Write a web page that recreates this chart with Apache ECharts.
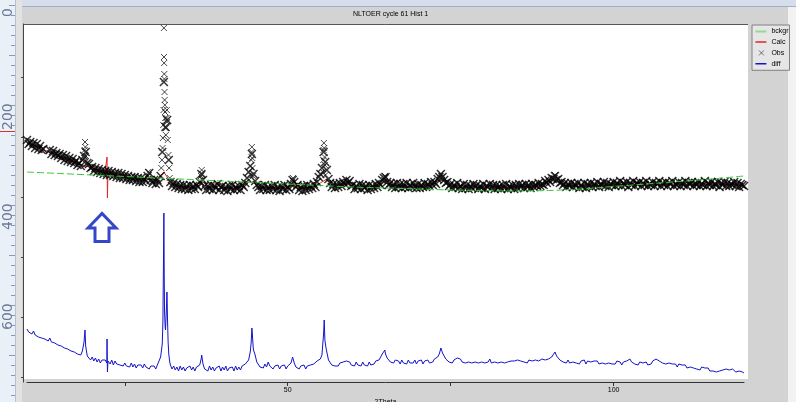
<!DOCTYPE html>
<html lang="en">
<head>
<meta charset="UTF-8">
<title>NLTOER cycle 61 Hist 1</title>
<script src="https://cdn.jsdelivr.net/npm/echarts@6/dist/echarts.min.js"></script>
<style>
  html, body { margin: 0; padding: 0; background: #d3d3d3; }
  #main { width: 796px; height: 402px; }
</style>
</head>
<body>
<div id="main"></div>
<script type="text/javascript">
// scan: 2theta from 10 to 120, step 0.25 (obs + diff), calc every 1 deg
const scanStart = 10;
const scanStep = 0.25;

const obsCounts = [
  242, 238, 240, 236, 239, 234, 238, 233, 236, 232,   // 10.0
  233, null, null, null, 232, 228, 231, 227, 229, 226,
  228, 224, 227, 222, 226, 221, 224, 220, 223, 219,   // 15.0
  221, 217, 219, 216, 222, 226, 230, 219, 218, 214,
  215, 211, 214, 210, 213, 209, 212, 208, 211, 207,   // 20.0
  211, 207, 210, 206, 209, 205, 209, 204, 208, 204,
  207, 203, 206, 202, 205, 202, 205, 201, 204, 200,   // 25.0
  204, 200, 203, 201, 206, 209, 202, 199, 202, 198,
  202, 199, 206, 230, 300, 255, 262, 222, 200, 196,   // 30.0
  199, 195, 198, 194, 197, 193, 197, 193, 196, 192,
  197, 193, 196, 193, 197, 195, 200, 208, 202, 196,   // 35.0
  192, 196, 193, 197, 192, 196, 194, 198, 192, 195,
  196, 192, 195, 191, 196, 193, 197, 192, 195, 193,   // 40.0
  196, 192, 197, 195, 199, 204, 210, 216, 228, 208,
  201, 197, 195, 192, 196, 193, 197, 192, 195, 192,   // 45.0
  196, 193, 197, 192, 195, 191, 196, 193, 197, 192,
  195, 193, 198, 202, 200, 195, 197, 192, 195, 191,   // 50.0
  196, 192, 197, 193, 196, 194, 198, 195, 200, 205,
  208, 214, 230, 220, 212, 203, 199, 195, 198, 194,   // 55.0
  198, 195, 199, 196, 200, 198, 202, 199, 201, 196,
  197, 193, 196, 194, 198, 193, 197, 194, 196, 192,   // 60.0
  197, 193, 196, 194, 198, 195, 199, 197, 202, 204,
  205, 200, 197, 199, 195, 198, 194, 199, 195, 198,   // 65.0
  194, 198, 195, 199, 194, 197, 195, 199, 196, 194,
  198, 194, 197, 195, 199, 195, 198, 196, 200, 197,   // 70.0
  200, 198, 203, 205, 208, 205, 202, 199, 200, 196,
  198, 194, 197, 195, 199, 194, 196, 193, 198, 194,   // 75.0
  197, 193, 196, 194, 198, 195, 197, 193, 196, 194,
  198, 193, 196, 195, 198, 194, 197, 193, 197, 194,   // 80.0
  196, 193, 197, 194, 198, 193, 196, 194, 197, 193,
  197, 194, 198, 195, 197, 194, 198, 195, 197, 194,   // 85.0
  198, 195, 197, 196, 199, 196, 198, 197, 201, 199,
  202, 200, 204, 203, 206, 202, 203, 199, 200, 197,   // 90.0
  199, 195, 198, 196, 199, 195, 198, 196, 199, 194,
  197, 195, 199, 194, 198, 196, 199, 195, 198, 196,   // 95.0
  200, 195, 198, 197, 200, 196, 199, 195, 198, 197,
  200, 196, 199, 197, 201, 196, 199, 197, 200, 195,   // 100.0
  199, 197, 201, 196, 199, 198, 200, 196, 199, 197,
  201, 196, 198, 197, 200, 196, 199, 198, 201, 196,   // 105.0
  199, 197, 200, 196, 199, 198, 201, 196, 198, 197,
  200, 196, 199, 197, 201, 196, 199, 198, 200, 196,   // 110.0
  199, 197, 200, 196, 198, 197, 201, 196, 199, 197,
  200, 196, 198, 197, 200, 195, 199, 197, 200, 196,   // 115.0
  199, 196, 198, 197, 200, 196, 199, 195, 198, 197,
  196                                                 // 120.0
];

// extra obs points on the peaks
const obsPeakTheta = [
  18.8, 18.85, 18.9, 18.95, 19.05, 28.6,
  30.6, 30.7, 30.8, 30.85, 30.9, 30.95, 31.0, 31.02, 31.04, 31.06, 31.08, 31.1, 31.12,
  31.15, 31.18, 31.2, 31.25, 31.3, 31.35, 31.4, 31.45, 31.5, 31.6, 31.7, 31.8, 31.9,
  36.7, 36.8, 36.9, 44.3, 44.4, 44.45, 44.5, 44.55, 44.6, 44.7, 50.8,
  55.4, 55.45, 55.5, 55.55, 55.6, 55.65, 55.7, 55.8,
  64.8, 64.9, 65.0, 73.4, 73.5, 73.6, 90.9, 91.0, 91.1
];
const obsPeakCounts = [
  224, 232, 240, 235, 226, 210,
  214, 222, 234, 244, 257, 272, 354, 325, 319, 308, 303, 290, 282,
  277, 270, 264, 254, 247, 254, 264, 272, 260, 242, 227, 214, 204,
  206, 212, 208, 207, 222, 230, 235, 224, 214, 206, 204,
  210, 222, 232, 239, 234, 225, 217, 207,
  202, 206, 204, 204, 208, 205, 204, 207, 203
];

const calcStep = 1;
const calcCounts = [
  239, 237, 233, 231, 228, 225, 222, 220, 218, 216,
  214, 212, 211, 210, 208, 207, 205, 204, 204, 202,
  203, 210, 200, 197, 195, 195, 195, 200, 195, 199,
  194, 194, 194, 196, 200, 199, 195, 194, 194, 194,
  194, 198, 194, 194, 195, 199, 203, 196, 196, 198,
  196, 195, 195, 195, 197, 202, 197, 196, 195, 196,
  196, 196, 197, 201, 202, 196, 195, 195, 196, 195,
  195, 196, 195, 195, 195, 195, 196, 195, 196, 197,
  200, 203, 198, 196, 196, 196, 196, 197, 196, 197,
  198, 197, 198, 197, 198, 197, 198, 198, 197, 198,
  198, 197, 198, 197, 198, 197, 198, 197, 198, 197,
  197
];
const calcPeakTheta = [22.2, 22.28, 22.34, 22.42];
const calcPeakCounts = [211, 225, 184, 211];

const bckgrTheta = [10, 15, 20, 25, 30, 35, 40, 45, 50, 55, 60, 65, 70, 75, 80, 85, 90, 95, 100, 105, 110, 115, 120];
const bckgrCounts = [210, 208.5, 207, 205.5, 204, 202.5, 201, 199.5, 198, 196.5, 195, 194, 193, 192, 191.5, 191, 191.5, 193, 195.5, 198, 200.5, 203, 206];

// difference curve (already offset, as plotted)
const diffCounts = [
  53, 50, 52, 48, 51, 47, 49, 45, 47, 44,   // 10.0
  46, 43, 45, 41, 44, 40, 42, 39, 41, 37,
  39, 36, 38, 34, 36, 33, 35, 31, 33, 30,   // 15.0
  32, 28, 30, 27, 31, 40, 36, 26, 26, 22,
  25, 21, 24, 20, 23, 19, 22, 20, 22, 19,   // 20.0
  21, 18, 22, 17, 21, 18, 20, 17, 19, 16,
  19, 16, 18, 15, 19, 15, 18, 14, 17, 15,   // 25.0
  17, 14, 18, 15, 17, 13, 16, 14, 16, 13,
  17, 19, 25, 38, 169, 52, 90, 28, 17, 13,  // 30.0
  16, 12, 15, 11, 16, 12, 15, 11, 14, 12,
  16, 12, 15, 11, 15, 13, 17, 24, 18, 13,   // 35.0
  15, 11, 16, 12, 15, 11, 14, 12, 16, 11,
  15, 12, 16, 11, 14, 12, 15, 11, 16, 12,   // 40.0
  15, 12, 16, 14, 18, 16, 22, 30, 54, 32,
  27, 20, 18, 15, 17, 14, 18, 15, 20, 16,   // 45.0
  17, 13, 16, 14, 17, 13, 16, 14, 17, 13,
  16, 14, 19, 25, 19, 15, 17, 13, 16, 14,   // 50.0
  17, 13, 16, 14, 17, 15, 18, 16, 21, 23,
  23, 27, 48, 40, 30, 22, 20, 17, 19, 16,   // 55.0
  18, 16, 19, 17, 20, 22, 21, 19, 20, 17,
  19, 16, 20, 17, 19, 16, 20, 17, 19, 16,   // 60.0
  20, 17, 19, 18, 21, 19, 22, 25, 28, 30,
  28, 24, 22, 20, 22, 19, 22, 20, 21, 18,   // 65.0
  22, 19, 21, 18, 22, 19, 21, 19, 22, 18,
  21, 19, 22, 18, 21, 20, 22, 19, 21, 20,   // 70.0
  23, 22, 25, 28, 34, 29, 26, 23, 22, 20,
  22, 19, 22, 20, 24, 22, 23, 20, 22, 19,   // 75.0
  21, 20, 22, 19, 21, 20, 22, 19, 21, 20,
  22, 19, 21, 20, 23, 19, 21, 20, 22, 19,   // 80.0
  21, 20, 22, 19, 21, 20, 22, 21, 23, 21,
  23, 22, 24, 21, 22, 20, 21, 19, 22, 20,   // 85.0
  21, 19, 22, 20, 21, 20, 23, 21, 22, 21,
  23, 22, 25, 27, 30, 26, 25, 22, 22, 20,   // 90.0
  21, 19, 22, 19, 21, 20, 22, 19, 21, 18,
  21, 19, 22, 18, 21, 19, 20, 18, 21, 19,   // 95.0
  21, 18, 20, 19, 21, 18, 20, 19, 21, 18,
  20, 18, 21, 19, 20, 17, 20, 18, 21, 20,   // 100.0
  23, 20, 21, 18, 20, 17, 20, 18, 19, 17,
  20, 17, 19, 18, 21, 20, 23, 24, 21, 19,   // 105.0
  19, 17, 18, 16, 19, 17, 18, 16, 18, 15,
  18, 16, 17, 15, 17, 14, 16, 15, 16, 14,   // 110.0
  15, 13, 15, 12, 15, 13, 14, 12, 14, 11,
  13, 11, 13, 10, 12, 11, 13, 12, 14, 13,   // 115.0
  15, 12, 14, 13, 12, 10, 12, 11, 12, 10,
  9                                         // 120.0
];
const diffPeakTheta = [
  18.8, 18.9, 19.0, 22.2, 22.28, 22.34, 22.42,
  30.6, 30.75, 30.85, 30.95, 31.0, 31.05, 31.1, 31.2, 31.3, 31.4, 31.47, 31.55, 31.65, 31.75, 31.9,
  36.8, 44.4, 44.55, 44.7, 55.6, 55.7, 55.85, 64.9, 73.5, 91.0
];
const diffPeakCounts = [
  44, 52, 36, 22, 43, 10, 21,
  25, 38, 60, 130, 169, 110, 70, 55, 50, 75, 90, 65, 40, 28, 20,
  27, 40, 50, 35, 62, 42, 35, 32, 34, 30
];

const xTickValues = [25, 50, 75, 100];
const xLabelValues = [50, 100];
const yTickValues = [5, 65, 125, 185, 245, 305];
const rulerLabels = ['0', '200', '400', '600'];

function onGrid(start, step, vals) {
  return vals.map(function (v, i) { return [start + i * step, v]; })
             .filter(function (p) { return p[1] !== null; });
}
function zipPairs(xs, ys) {
  return xs.map(function (x, i) { return [x, ys[i]]; });
}
function merged(a, b) {
  return a.concat(b).sort(function (p, q) { return p[0] - q[0]; });
}

const obsData = onGrid(scanStart, scanStep, obsCounts);
const obsPeakData = zipPairs(obsPeakTheta, obsPeakCounts);
const diffData = merged(onGrid(scanStart, scanStep, diffCounts), zipPairs(diffPeakTheta, diffPeakCounts));
const calcData = merged(onGrid(scanStart, calcStep, calcCounts), zipPairs(calcPeakTheta, calcPeakCounts));
const bckgrData = zipPairs(bckgrTheta, bckgrCounts);

// window decoration: ruler on the left, frame, arrow
const decor = [
  { type: 'rect', shape: { x: 0, y: 0, width: 796, height: 6 }, style: { fill: '#d5deea' } },
  { type: 'line', shape: { x1: 0, y1: 6.5, x2: 796, y2: 6.5 }, style: { stroke: '#9fb0c8', lineWidth: 1 } },
  { type: 'rect', shape: { x: 0, y: 0, width: 15, height: 402 }, style: { fill: '#eaf0f8' } },
  { type: 'rect', shape: { x: 15, y: 0, width: 7, height: 402 }, style: { fill: '#e2e2e2' } },
  { type: 'line', shape: { x1: 15.5, y1: 0, x2: 15.5, y2: 402 }, style: { stroke: '#b5c0d3', lineWidth: 1 } },
  { type: 'rect', shape: { x: 788, y: 7, width: 8, height: 395 }, style: { fill: '#f2f2f2' } },
  { type: 'rect', shape: { x: 24, y: 25, width: 724, height: 354 }, style: { fill: '#ffffff' } },
  { type: 'line', shape: { x1: 23, y1: 24.5, x2: 748, y2: 24.5 }, style: { stroke: '#555', lineWidth: 1 } }
];
for (let y = 5; y < 402; y += 10) {
  decor.push({ type: 'line', shape: { x1: (y - 5) % 50 === 0 ? 9 : 11, y1: y + 0.5, x2: 15, y2: y + 0.5 },
               style: { stroke: '#8a98b4', lineWidth: 1 } });
}
decor.push({ type: 'line', z: 20, shape: { x1: 0, y1: 131.5, x2: 15, y2: 131.5 },
             style: { stroke: '#e03030', lineWidth: 1 } });
const rulerY = [17, 130, 230, 330];
rulerLabels.forEach(function (t, i) {
  decor.push({ type: 'text', x: 1, y: rulerY[i], rotation: Math.PI / 2,
               style: { text: t, fill: '#6b7b99', font: '14px "DejaVu Sans"', align: 'left', verticalAlign: 'top' } });
});
decor.push({
  type: 'polygon', z: 100,
  shape: { points: [[88, 228], [102, 213.5], [116, 228], [109, 228], [109, 241.5], [95, 241.5], [95, 228]] },
  style: { fill: '#ffffff', stroke: '#3547c8', lineWidth: 3, lineJoin: 'miter' }
});

// legend icons: thin line / small cross inside an 11x7 box
const lineIcon = 'path://M0,0L0.01,0M11,7L11.01,7M0,2.8h11v1.4h-11z';
const thickIcon = 'path://M0,0L0.01,0M11,7L11.01,7M0,2.5h11v2h-11z';
const crossIcon = 'path://M0,0L0.01,0M11,7L11.01,7M3.5,1L8.5,6M8.5,1L3.5,6';

const chart = echarts.init(document.getElementById('main'));
chart.setOption({
  animation: false,
  backgroundColor: '#d3d3d3',
  textStyle: { fontFamily: 'Liberation Sans' },
  title: {
    text: 'NLTOER cycle 61 Hist 1',
    left: 353, top: 11, padding: 0,
    textStyle: { fontSize: 7, fontWeight: 'normal', color: '#000' }
  },
  legend: {
    orient: 'vertical', left: 752, top: 25, padding: [3, 1, 3, 3],
    itemWidth: 11, itemHeight: 7, itemGap: 3.5,
    backgroundColor: '#e6e6e6', borderColor: '#808080', borderWidth: 1,
    selectedMode: false,
    textStyle: { fontSize: 7, color: '#000', lineHeight: 7 },
    data: [
      { name: 'bckgr', icon: thickIcon, itemStyle: { color: '#8fdc8f', borderWidth: 0 } },
      { name: 'Calc', icon: lineIcon, itemStyle: { color: '#e8242a', borderWidth: 0 } },
      { name: 'Obs', icon: crossIcon, itemStyle: { color: 'transparent', borderColor: '#333', borderWidth: 0.8 } },
      { name: 'diff', icon: lineIcon, itemStyle: { color: '#1414cc', borderWidth: 0 } }
    ]
  },
  graphic: decor,
  grid: { left: 27, right: 52, top: 24, bottom: 20, outerBoundsMode: 'none', containLabel: false },
  xAxis: {
    type: 'value', min: 10, max: 120,
    name: '2Theta', nameLocation: 'middle', nameGap: 13,
    nameTextStyle: { fontSize: 7, color: '#000' },
    axisLine: { onZero: false, lineStyle: { color: '#333', width: 1 } },
    axisTick: { customValues: xTickValues, length: 4, lineStyle: { color: '#333' } },
    axisLabel: { customValues: xLabelValues, fontSize: 7, margin: 5, color: '#000' },
    splitLine: { show: false }
  },
  yAxis: {
    type: 'value', min: 0, max: 358, offset: 4,
    axisLine: { show: true, onZero: false, lineStyle: { color: '#444', width: 1 } },
    axisTick: { show: true, customValues: yTickValues, length: 2, lineStyle: { color: '#444' } },
    axisLabel: { show: false },
    splitLine: { show: false }
  },
  series: [
    {
      name: 'Calc', type: 'line', data: calcData, z: 2,
      symbol: 'none', silent: true,
      lineStyle: { color: '#e8242a', width: 1 }, itemStyle: { color: '#e8242a' }
    },
    {
      name: 'Obs', type: 'scatter', data: obsData, z: 3,
      symbol: 'path://M0,0L10,10M10,0L0,10', symbolSize: 8, silent: true,
      itemStyle: { color: 'transparent', borderColor: '#000', borderWidth: 1.5 }
    },
    {
      name: 'Obs', type: 'scatter', data: obsPeakData, z: 3,
      symbol: 'path://M0,0L10,10M10,0L0,10', symbolSize: 6, silent: true,
      itemStyle: { color: 'transparent', borderColor: '#1a1a1a', borderWidth: 1 }
    },
    {
      name: 'bckgr', type: 'line', data: bckgrData, z: 4, smooth: 0.3,
      symbol: 'none', silent: true,
      lineStyle: { color: '#3cc83c', width: 1, type: [7, 3] }, itemStyle: { color: '#3cc83c' }
    },
    {
      name: 'diff', type: 'line', data: diffData, z: 3,
      symbol: 'none', silent: true,
      lineStyle: { color: '#1414cc', width: 1 }, itemStyle: { color: '#1414cc' }
    }
  ]
});
</script>
</body>
</html>
